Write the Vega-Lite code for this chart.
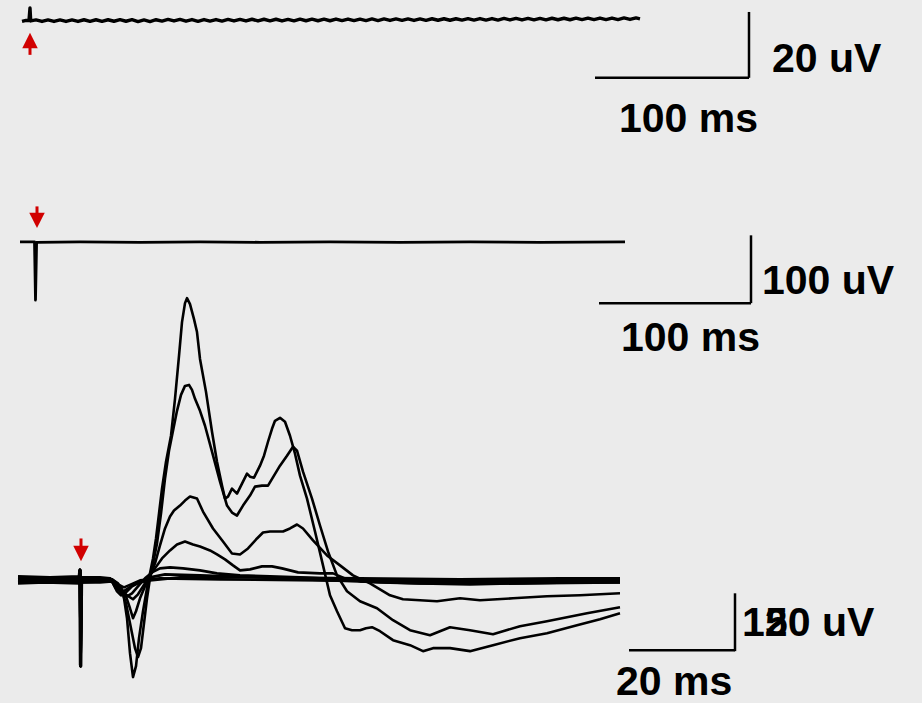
{
  "$schema": "https://vega.github.io/schema/vega-lite/v6.json",
  "width": 922,
  "height": 703,
  "autosize": {"type": "fit", "contains": "padding"},
  "padding": 0,
  "background": "#ebebeb",
  "config": {"view": {"stroke": null}},
  "datasets": {
    "top": [
      {"t":"top","x":22,"y":21.5},{"x":26,"y":20.5,"t":"top"},{"t":"top","x":29,"y":20.5},{"t":"top","x":30,"y":8},{"t":"top","x":30.7,"y":21},
      {"t":"top","x":36,"y":20},{"t":"top","x":42,"y":21.5},{"t":"top","x":48,"y":20},{"t":"top","x":54,"y":21.5},{"t":"top","x":60,"y":20},
      {"t":"top","x":66,"y":21.5},{"t":"top","x":72,"y":20},{"t":"top","x":78,"y":21.5},{"t":"top","x":84,"y":19.8},{"t":"top","x":90,"y":21.4},
      {"t":"top","x":96,"y":19.8},{"t":"top","x":102,"y":21.4},{"t":"top","x":108,"y":19.8},{"t":"top","x":114,"y":21.3},{"t":"top","x":120,"y":19.7},
      {"t":"top","x":126,"y":21.3},{"t":"top","x":132,"y":19.7},{"t":"top","x":138,"y":21.6},{"t":"top","x":144,"y":20},{"t":"top","x":150,"y":21.6},
      {"t":"top","x":156,"y":19.8},{"t":"top","x":162,"y":21.2},{"t":"top","x":168,"y":19.5},{"t":"top","x":174,"y":21},{"t":"top","x":180,"y":19.5},
      {"t":"top","x":186,"y":21.3},{"t":"top","x":192,"y":19.6},{"t":"top","x":198,"y":21.4},{"t":"top","x":204,"y":19.6},{"t":"top","x":210,"y":21.2},
      {"t":"top","x":216,"y":19.6},{"t":"top","x":222,"y":21.2},{"t":"top","x":228,"y":19.5},{"t":"top","x":234,"y":21},{"t":"top","x":240,"y":19.4},
      {"t":"top","x":246,"y":21},{"t":"top","x":252,"y":19.3},{"t":"top","x":258,"y":21},{"t":"top","x":264,"y":19.3},{"t":"top","x":270,"y":20.9},
      {"t":"top","x":276,"y":19.3},{"t":"top","x":282,"y":21},{"t":"top","x":288,"y":19.4},{"t":"top","x":294,"y":20.9},{"t":"top","x":300,"y":19.2},
      {"t":"top","x":306,"y":20.8},{"t":"top","x":312,"y":19.2},{"t":"top","x":318,"y":20.8},{"t":"top","x":324,"y":19.2},{"t":"top","x":330,"y":20.8},
      {"t":"top","x":336,"y":19.1},{"t":"top","x":342,"y":20.6},{"t":"top","x":348,"y":19.1},{"t":"top","x":354,"y":20.7},{"t":"top","x":360,"y":19.2},
      {"t":"top","x":366,"y":20.6},{"t":"top","x":372,"y":19},{"t":"top","x":378,"y":20.6},{"t":"top","x":384,"y":19},{"t":"top","x":390,"y":20.5},
      {"t":"top","x":396,"y":19},{"t":"top","x":402,"y":20.4},{"t":"top","x":408,"y":18.9},{"t":"top","x":414,"y":20.5},{"t":"top","x":420,"y":18.9},
      {"t":"top","x":426,"y":20.4},{"t":"top","x":432,"y":18.8},{"t":"top","x":438,"y":20.3},{"t":"top","x":444,"y":18.8},{"t":"top","x":450,"y":20.3},
      {"t":"top","x":456,"y":18.8},{"t":"top","x":462,"y":20.2},{"t":"top","x":468,"y":18.7},{"t":"top","x":474,"y":20.2},{"t":"top","x":480,"y":18.6},
      {"t":"top","x":486,"y":20.1},{"t":"top","x":492,"y":18.6},{"t":"top","x":498,"y":20.1},{"t":"top","x":504,"y":18.5},{"t":"top","x":510,"y":20},
      {"t":"top","x":516,"y":18.5},{"t":"top","x":522,"y":20},{"t":"top","x":528,"y":18.4},{"t":"top","x":534,"y":19.9},{"t":"top","x":540,"y":18.4},
      {"t":"top","x":546,"y":19.9},{"t":"top","x":552,"y":18.3},{"t":"top","x":558,"y":19.8},{"t":"top","x":564,"y":18.3},{"t":"top","x":570,"y":19.8},
      {"t":"top","x":576,"y":18.2},{"t":"top","x":582,"y":19.7},{"t":"top","x":588,"y":18.2},{"t":"top","x":594,"y":19.7},{"t":"top","x":600,"y":18.1},
      {"t":"top","x":606,"y":19.6},{"t":"top","x":612,"y":18.1},{"t":"top","x":618,"y":19.6},{"t":"top","x":624,"y":18},{"t":"top","x":630,"y":19.5},
      {"t":"top","x":636,"y":18},{"t":"top","x":640,"y":19}
    ],
    "mid": [
      {"t":"mid","x":20,"y":242.5},{"t":"mid","x":34.5,"y":242.5},{"t":"mid","x":35.5,"y":301},{"t":"mid","x":36.6,"y":243},{"t":"mid","x":80,"y":242.5},
      {"t":"mid","x":140,"y":243},{"t":"mid","x":200,"y":242.5},{"t":"mid","x":260,"y":243},{"t":"mid","x":330,"y":242.5},{"t":"mid","x":400,"y":243},
      {"t":"mid","x":470,"y":242.5},{"t":"mid","x":540,"y":243},{"t":"mid","x":625,"y":242.5}
    ],
    "traces": [
      {"t":"A","x":18,"y":581},{"t":"A","x":45,"y":582},{"t":"A","x":79,"y":581},{"t":"A","x":80,"y":571},{"t":"A","x":80.6,"y":668},{"t":"A","x":81.4,"y":582},
      {"t":"A","x":100,"y":581},{"t":"A","x":112,"y":581},{"t":"A","x":118,"y":585},{"t":"A","x":123,"y":593},{"t":"A","x":127,"y":620},{"t":"A","x":130,"y":655},
      {"t":"A","x":133,"y":679},{"t":"A","x":136,"y":668},{"t":"A","x":139,"y":640},{"t":"A","x":143,"y":613},{"t":"A","x":147,"y":590},{"t":"A","x":150,"y":575},
      {"t":"A","x":153,"y":560},{"t":"A","x":156,"y":540},{"t":"A","x":159,"y":515},{"t":"A","x":162,"y":490},{"t":"A","x":166,"y":463},{"t":"A","x":171,"y":437},
      {"t":"A","x":175,"y":400},{"t":"A","x":179,"y":357},{"t":"A","x":182,"y":323},{"t":"A","x":185,"y":304},{"t":"A","x":187,"y":299},{"t":"A","x":190,"y":305},
      {"t":"A","x":194,"y":320},{"t":"A","x":197,"y":333},{"t":"A","x":200,"y":360},{"t":"A","x":206,"y":393},{"t":"A","x":212,"y":433},{"t":"A","x":217,"y":463},
      {"t":"A","x":222,"y":487},{"t":"A","x":225,"y":500},{"t":"A","x":228,"y":498},{"t":"A","x":232,"y":490},{"t":"A","x":235,"y":493},{"t":"A","x":237,"y":495},
      {"t":"A","x":242,"y":485},{"t":"A","x":247,"y":475},{"t":"A","x":250,"y":478},{"t":"A","x":254,"y":479},{"t":"A","x":260,"y":467},{"t":"A","x":264,"y":457},
      {"t":"A","x":268,"y":443},{"t":"A","x":272,"y":430},{"t":"A","x":275,"y":422},{"t":"A","x":280,"y":419},{"t":"A","x":285,"y":423},{"t":"A","x":290,"y":437},
      {"t":"A","x":295,"y":455},{"t":"A","x":300,"y":477},{"t":"A","x":307,"y":500},{"t":"A","x":315,"y":533},{"t":"A","x":323,"y":567},{"t":"A","x":330,"y":597},
      {"t":"A","x":337,"y":613},{"t":"A","x":345,"y":630},{"t":"A","x":352,"y":632},{"t":"A","x":360,"y":632},{"t":"A","x":366,"y":630},{"t":"A","x":372,"y":629},
      {"t":"A","x":380,"y":633},{"t":"A","x":393,"y":642},{"t":"A","x":410,"y":647},{"t":"A","x":423,"y":653},{"t":"A","x":433,"y":650},{"t":"A","x":450,"y":650},
      {"t":"A","x":470,"y":653},{"t":"A","x":493,"y":647},{"t":"A","x":520,"y":640},{"t":"A","x":547,"y":635},{"t":"A","x":577,"y":627},{"t":"A","x":600,"y":621},
      {"t":"A","x":620,"y":615},

      {"t":"B","x":18,"y":582},{"t":"B","x":50,"y":581},{"t":"B","x":78.5,"y":582},{"t":"B","x":79.5,"y":572},{"t":"B","x":80.1,"y":667},{"t":"B","x":80.9,"y":582},
      {"t":"B","x":100,"y":582},{"t":"B","x":112,"y":582},{"t":"B","x":120,"y":588},{"t":"B","x":126,"y":605},{"t":"B","x":131,"y":630},{"t":"B","x":135,"y":650},
      {"t":"B","x":138,"y":659},{"t":"B","x":141,"y":650},{"t":"B","x":144,"y":625},{"t":"B","x":147,"y":600},{"t":"B","x":150,"y":580},{"t":"B","x":153,"y":565},
      {"t":"B","x":157,"y":545},{"t":"B","x":161,"y":515},{"t":"B","x":165,"y":480},{"t":"B","x":169,"y":452},{"t":"B","x":173,"y":432},{"t":"B","x":177,"y":412},
      {"t":"B","x":181,"y":396},{"t":"B","x":185,"y":387},{"t":"B","x":189,"y":386},{"t":"B","x":192,"y":391},{"t":"B","x":195,"y":400},{"t":"B","x":200,"y":412},
      {"t":"B","x":205,"y":427},{"t":"B","x":212,"y":453},{"t":"B","x":220,"y":483},{"t":"B","x":227,"y":507},{"t":"B","x":232,"y":514},{"t":"B","x":237,"y":517},
      {"t":"B","x":243,"y":507},{"t":"B","x":250,"y":497},{"t":"B","x":255,"y":488},{"t":"B","x":262,"y":487},{"t":"B","x":268,"y":487},{"t":"B","x":274,"y":477},
      {"t":"B","x":280,"y":467},{"t":"B","x":287,"y":457},{"t":"B","x":293,"y":448},{"t":"B","x":297,"y":452},{"t":"B","x":303,"y":473},{"t":"B","x":312,"y":500},
      {"t":"B","x":320,"y":527},{"t":"B","x":328,"y":553},{"t":"B","x":337,"y":577},{"t":"B","x":347,"y":593},{"t":"B","x":360,"y":603},{"t":"B","x":377,"y":610},
      {"t":"B","x":393,"y":622},{"t":"B","x":410,"y":632},{"t":"B","x":430,"y":637},{"t":"B","x":450,"y":629},{"t":"B","x":470,"y":632},{"t":"B","x":493,"y":636},
      {"t":"B","x":520,"y":628},{"t":"B","x":547,"y":623},{"t":"B","x":587,"y":615},{"t":"B","x":620,"y":609},

      {"t":"C","x":18,"y":579},{"t":"C","x":40,"y":580},{"t":"C","x":79.5,"y":579},{"t":"C","x":80.5,"y":572},{"t":"C","x":81.1,"y":668},{"t":"C","x":81.9,"y":580},
      {"t":"C","x":100,"y":580},{"t":"C","x":112,"y":581},{"t":"C","x":120,"y":588},{"t":"C","x":126,"y":598},{"t":"C","x":130,"y":610},{"t":"C","x":133,"y":620},
      {"t":"C","x":136,"y":613},{"t":"C","x":140,"y":600},{"t":"C","x":145,"y":588},{"t":"C","x":150,"y":578},{"t":"C","x":155,"y":565},{"t":"C","x":160,"y":547},
      {"t":"C","x":165,"y":530},{"t":"C","x":170,"y":518},{"t":"C","x":174,"y":512},{"t":"C","x":180,"y":507},{"t":"C","x":185,"y":502},{"t":"C","x":190,"y":498},
      {"t":"C","x":197,"y":500},{"t":"C","x":203,"y":513},{"t":"C","x":213,"y":530},{"t":"C","x":223,"y":543},{"t":"C","x":232,"y":555},{"t":"C","x":240,"y":556},
      {"t":"C","x":248,"y":550},{"t":"C","x":257,"y":540},{"t":"C","x":263,"y":534},{"t":"C","x":270,"y":533},{"t":"C","x":277,"y":533},{"t":"C","x":283,"y":533},
      {"t":"C","x":290,"y":530},{"t":"C","x":297,"y":526},{"t":"C","x":303,"y":530},{"t":"C","x":313,"y":542},{"t":"C","x":327,"y":557},{"t":"C","x":340,"y":567},
      {"t":"C","x":353,"y":577},{"t":"C","x":370,"y":585},{"t":"C","x":390,"y":597},{"t":"C","x":403,"y":601},{"t":"C","x":437,"y":603},{"t":"C","x":460,"y":600},
      {"t":"C","x":480,"y":602},{"t":"C","x":513,"y":600},{"t":"C","x":547,"y":598},{"t":"C","x":580,"y":597},{"t":"C","x":620,"y":595},

      {"t":"D","x":18,"y":584},{"t":"D","x":55,"y":583},{"t":"D","x":79,"y":584},{"t":"D","x":80,"y":572},{"t":"D","x":80.6,"y":668},{"t":"D","x":81.4,"y":584},
      {"t":"D","x":100,"y":583},{"t":"D","x":112,"y":582},{"t":"D","x":120,"y":590},{"t":"D","x":127,"y":597},{"t":"D","x":133,"y":601},{"t":"D","x":138,"y":596},
      {"t":"D","x":143,"y":588},{"t":"D","x":148,"y":580},{"t":"D","x":155,"y":570},{"t":"D","x":162,"y":560},{"t":"D","x":170,"y":552},{"t":"D","x":177,"y":546},
      {"t":"D","x":185,"y":543},{"t":"D","x":193,"y":546},{"t":"D","x":200,"y":548},{"t":"D","x":210,"y":552},{"t":"D","x":217,"y":556},{"t":"D","x":225,"y":561},
      {"t":"D","x":233,"y":567},{"t":"D","x":240,"y":572},{"t":"D","x":250,"y":571},{"t":"D","x":262,"y":568},{"t":"D","x":272,"y":568},{"t":"D","x":282,"y":570},
      {"t":"D","x":298,"y":574},{"t":"D","x":320,"y":575},{"t":"D","x":333,"y":575},{"t":"D","x":345,"y":580},{"t":"D","x":360,"y":583},{"t":"D","x":380,"y":584},
      {"t":"D","x":420,"y":585},{"t":"D","x":470,"y":586},{"t":"D","x":520,"y":585},{"t":"D","x":570,"y":584},{"t":"D","x":620,"y":584},

      {"t":"E","x":18,"y":581},{"t":"E","x":60,"y":580},{"t":"E","x":79,"y":581},{"t":"E","x":80,"y":572},{"t":"E","x":80.6,"y":668},{"t":"E","x":81.4,"y":581},
      {"t":"E","x":100,"y":581},{"t":"E","x":112,"y":582},{"t":"E","x":118,"y":590},{"t":"E","x":122,"y":596},{"t":"E","x":127,"y":598},{"t":"E","x":132,"y":595},
      {"t":"E","x":138,"y":588},{"t":"E","x":145,"y":580},{"t":"E","x":152,"y":574},{"t":"E","x":160,"y":570},{"t":"E","x":170,"y":569},{"t":"E","x":183,"y":570},
      {"t":"E","x":200,"y":572},{"t":"E","x":217,"y":575},{"t":"E","x":240,"y":577},{"t":"E","x":270,"y":578},{"t":"E","x":300,"y":579},{"t":"E","x":340,"y":581},
      {"t":"E","x":400,"y":583},{"t":"E","x":500,"y":584},{"t":"E","x":620,"y":583},

      {"t":"F","x":18,"y":585},{"t":"F","x":45,"y":584},{"t":"F","x":79,"y":585},{"t":"F","x":80,"y":572},{"t":"F","x":80.6,"y":668},{"t":"F","x":81.4,"y":584},
      {"t":"F","x":100,"y":584},{"t":"F","x":112,"y":583},{"t":"F","x":117,"y":593},{"t":"F","x":121,"y":597},{"t":"F","x":126,"y":594},{"t":"F","x":132,"y":588},
      {"t":"F","x":140,"y":584},{"t":"F","x":150,"y":579},{"t":"F","x":165,"y":576},{"t":"F","x":200,"y":577},{"t":"F","x":260,"y":579},{"t":"F","x":330,"y":582},
      {"t":"F","x":420,"y":585},{"t":"F","x":520,"y":585},{"t":"F","x":620,"y":584},

      {"t":"G","x":18,"y":578},{"t":"G","x":50,"y":579},{"t":"G","x":79,"y":578},{"t":"G","x":80,"y":572},{"t":"G","x":80.6,"y":668},{"t":"G","x":81.4,"y":579},
      {"t":"G","x":100,"y":579},{"t":"G","x":110,"y":580},{"t":"G","x":116,"y":590},{"t":"G","x":122,"y":594},{"t":"G","x":128,"y":590},{"t":"G","x":136,"y":585},
      {"t":"G","x":150,"y":582},{"t":"G","x":180,"y":579},{"t":"G","x":260,"y":579},{"t":"G","x":360,"y":580},{"t":"G","x":460,"y":581},{"t":"G","x":560,"y":580},
      {"t":"G","x":620,"y":580},

      {"t":"H","x":18,"y":582},{"t":"H","x":40,"y":583},{"t":"H","x":79,"y":582},{"t":"H","x":80,"y":572},{"t":"H","x":80.6,"y":668},{"t":"H","x":81.4,"y":582},
      {"t":"H","x":100,"y":581},{"t":"H","x":110,"y":580},{"t":"H","x":118,"y":586},{"t":"H","x":124,"y":589},{"t":"H","x":131,"y":586},{"t":"H","x":140,"y":582},
      {"t":"H","x":160,"y":580},{"t":"H","x":220,"y":581},{"t":"H","x":320,"y":582},{"t":"H","x":420,"y":583},{"t":"H","x":520,"y":582},{"t":"H","x":620,"y":582}
    ],
    "bars": [
      {"x":749,"y":12,"x2":749,"y2":78},
      {"x":595,"y":78,"x2":749,"y2":78},
      {"x":751,"y":236,"x2":751,"y2":304},
      {"x":599,"y":304,"x2":751,"y2":304},
      {"x":735,"y":595,"x2":735,"y2":653},
      {"x":629,"y":652,"x2":735,"y2":652}
    ],
    "stems": [
      {"x":30,"y":47,"y2":55},
      {"x":37,"y":207,"y2":214},
      {"x":81,"y":540,"y2":548}
    ],
    "heads": [
      {"x":30,"y":40.5,"dir":"up"},
      {"x":37,"y":221,"dir":"down"},
      {"x":81,"y":555,"dir":"down"}
    ],
    "labels": [
      {"x":772,"y":72,"text":"20 uV"},
      {"x":619,"y":132,"text":"100 ms"},
      {"x":762,"y":295,"text":"100 uV"},
      {"x":621,"y":352,"text":"100 ms"},
      {"x":742,"y":638,"text":"12"},
      {"x":765,"y":638,"text":"50 uV"},
      {"x":616,"y":697,"text":"20 ms"}
    ]
  },
  "layer": [
    {
      "data": {"name": "top"},
      "mark": {"type": "line", "stroke": "black", "strokeWidth": 3.4, "strokeJoin": "round"},
      "encoding": {
        "x": {"field": "x", "type": "quantitative", "scale": {"domain": [0, 922], "nice": false, "zero": false}, "axis": null},
        "y": {"field": "y", "type": "quantitative", "scale": {"domain": [0, 703], "nice": false, "zero": false, "reverse": true}, "axis": null},
        "detail": {"field": "t"}
      }
    },
    {
      "data": {"name": "mid"},
      "mark": {"type": "line", "stroke": "black", "strokeWidth": 2.8, "strokeJoin": "round"},
      "encoding": {
        "x": {"field": "x", "type": "quantitative", "axis": null},
        "y": {"field": "y", "type": "quantitative", "axis": null},
        "detail": {"field": "t"}
      }
    },
    {
      "data": {"name": "traces"},
      "mark": {"type": "line", "stroke": "black", "strokeWidth": 2.6, "strokeJoin": "round"},
      "encoding": {
        "x": {"field": "x", "type": "quantitative", "axis": null},
        "y": {"field": "y", "type": "quantitative", "axis": null},
        "detail": {"field": "t"}
      }
    },
    {
      "data": {"name": "bars"},
      "mark": {"type": "rule", "stroke": "black", "strokeWidth": 2.5},
      "encoding": {
        "x": {"field": "x", "type": "quantitative"},
        "x2": {"field": "x2"},
        "y": {"field": "y", "type": "quantitative"},
        "y2": {"field": "y2"}
      }
    },
    {
      "data": {"name": "stems"},
      "mark": {"type": "rule", "stroke": "#d10000", "strokeWidth": 3},
      "encoding": {
        "x": {"field": "x", "type": "quantitative"},
        "y": {"field": "y", "type": "quantitative"},
        "y2": {"field": "y2"}
      }
    },
    {
      "data": {"name": "heads"},
      "mark": {"type": "point", "filled": true, "color": "#d10000", "opacity": 1, "size": 240, "strokeWidth": 0},
      "encoding": {
        "x": {"field": "x", "type": "quantitative"},
        "y": {"field": "y", "type": "quantitative"},
        "shape": {"field": "dir", "type": "nominal", "scale": {"domain": ["up", "down"], "range": ["M-1,1L1,1L0,-1Z", "M-1,-1L1,-1L0,1Z"]}, "legend": null}
      }
    },
    {
      "data": {"name": "labels"},
      "mark": {"type": "text", "font": "Liberation Sans", "fontSize": 41, "fontWeight": "bold", "align": "left", "baseline": "alphabetic", "color": "black"},
      "encoding": {
        "x": {"field": "x", "type": "quantitative"},
        "y": {"field": "y", "type": "quantitative"},
        "text": {"field": "text"}
      }
    }
  ]
}
